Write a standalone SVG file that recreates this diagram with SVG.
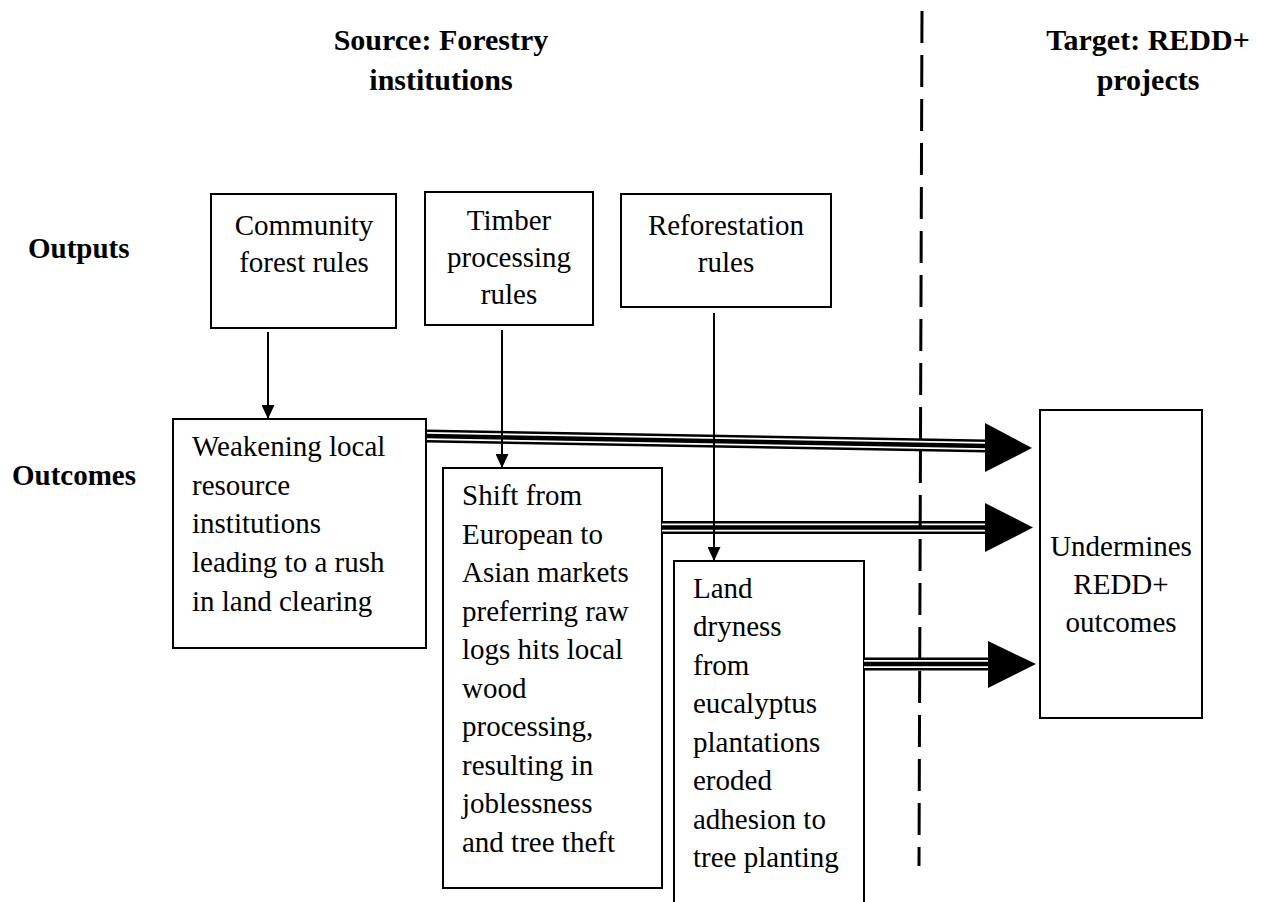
<svg xmlns="http://www.w3.org/2000/svg" width="1261" height="902" viewBox="0 0 1261 902">
  <style>
    .box { fill: #ffffff; stroke: #000000; stroke-width: 2; }
    .txt { font-family: "Liberation Serif", "Times New Roman", serif; font-size: 29px; fill: #000000; }
    .mid { text-anchor: middle; }
    .head { font-family: "Liberation Serif", "Times New Roman", serif; font-size: 29px; font-weight: bold; fill: #000000; }
    .title { font-size: 30px; }
    .thin { stroke: #000000; stroke-width: 2; fill: none; }
    .tri-outer { stroke: #000000; stroke-width: 13; fill: none; }
    .tri-gap { stroke: #ffffff; stroke-width: 8; fill: none; }
    .tri-core { stroke: #000000; stroke-width: 4.5; fill: none; }
    .divider { stroke: #000000; stroke-width: 3; stroke-dasharray: 32 12; fill: none; }
  </style>
  <defs>
    <marker id="tip" markerWidth="14" markerHeight="13" refX="14" refY="6.5" orient="auto" markerUnits="userSpaceOnUse" viewBox="0 0 14 13">
      <path d="M0,0 L14,6.5 L0,13 Z" fill="#000000"/>
    </marker>
  </defs>
  <rect width="1261" height="902" fill="#ffffff"/>

  <!-- column headings and row labels -->
  <g id="headings">
    <text class="head title mid" x="441" y="50">Source: Forestry</text>
    <text class="head title mid" x="441" y="90">institutions</text>
    <text class="head title mid" x="1148" y="50">Target: REDD+</text>
    <text class="head title mid" x="1148" y="90">projects</text>
    <text class="head" x="28" y="258">Outputs</text>
    <text class="head" x="12" y="485">Outcomes</text>
  </g>

  <!-- output nodes -->
  <g id="community-forest-rules">
    <rect class="box" x="211" y="194" width="185" height="134"/>
    <text class="txt mid" x="304" y="235">Community</text>
    <text class="txt mid" x="304" y="272">forest rules</text>
  </g>
  <g id="timber-processing-rules">
    <rect class="box" x="425" y="192" width="168" height="133"/>
    <text class="txt mid" x="509" y="230">Timber</text>
    <text class="txt mid" x="509" y="267">processing</text>
    <text class="txt mid" x="509" y="304">rules</text>
  </g>
  <g id="reforestation-rules">
    <rect class="box" x="621" y="194" width="210" height="113"/>
    <text class="txt mid" x="726" y="235">Reforestation</text>
    <text class="txt mid" x="726" y="272">rules</text>
  </g>

  <!-- outcome nodes -->
  <g id="weakening-institutions">
    <rect class="box" x="173" y="419" width="253" height="229"/>
    <text class="txt" x="192" y="456">Weakening local</text>
    <text class="txt" x="192" y="495">resource</text>
    <text class="txt" x="192" y="533">institutions</text>
    <text class="txt" x="192" y="572">leading to a rush</text>
    <text class="txt" x="192" y="611">in land clearing</text>
  </g>
  <g id="market-shift">
    <rect class="box" x="443" y="468" width="219" height="420"/>
    <text class="txt" x="462" y="505">Shift from</text>
    <text class="txt" x="462" y="544">European to</text>
    <text class="txt" x="462" y="582">Asian markets</text>
    <text class="txt" x="462" y="621">preferring raw</text>
    <text class="txt" x="462" y="659">logs hits local</text>
    <text class="txt" x="462" y="698">wood</text>
    <text class="txt" x="462" y="736">processing,</text>
    <text class="txt" x="462" y="775">resulting in</text>
    <text class="txt" x="462" y="813">joblessness</text>
    <text class="txt" x="462" y="852">and tree theft</text>
  </g>
  <g id="land-dryness">
    <rect class="box" x="674" y="561" width="190" height="350"/>
    <text class="txt" x="693" y="598">Land</text>
    <text class="txt" x="693" y="636">dryness</text>
    <text class="txt" x="693" y="675">from</text>
    <text class="txt" x="693" y="713">eucalyptus</text>
    <text class="txt" x="693" y="752">plantations</text>
    <text class="txt" x="693" y="790">eroded</text>
    <text class="txt" x="693" y="829">adhesion to</text>
    <text class="txt" x="693" y="867">tree planting</text>
  </g>

  <!-- target node -->
  <g id="undermines-redd">
    <rect class="box" x="1040" y="410" width="162" height="308"/>
    <text class="txt mid" x="1121" y="556">Undermines</text>
    <text class="txt mid" x="1121" y="594">REDD+</text>
    <text class="txt mid" x="1121" y="632">outcomes</text>
  </g>

  <!-- connectors -->
  <g id="connectors">
    <g id="weakening-to-target">
      <path class="tri-outer" d="M427,436 L987,446"/>
      <path class="tri-gap" d="M427,436 L987,446"/>
      <path class="tri-core" d="M427,436 L987,446"/>
      <polygon points="985,423 1032,448 985,472" fill="#000000"/>
    </g>
    <g id="shift-to-target">
      <path class="tri-outer" d="M662,527.5 L987,527.5"/>
      <path class="tri-gap" d="M662,527.5 L987,527.5"/>
      <path class="tri-core" d="M662,527.5 L987,527.5"/>
      <polygon points="985,503 1033,527.5 985,552" fill="#000000"/>
    </g>
    <g id="dryness-to-target">
      <path class="tri-outer" d="M864,664 L990,664"/>
      <path class="tri-gap" d="M864,664 L990,664"/>
      <path class="tri-core" d="M864,664 L990,664"/>
      <polygon points="988,641 1036,664 988,688" fill="#000000"/>
    </g>
    <line class="thin" x1="268" y1="332" x2="268" y2="419" marker-end="url(#tip)"/>
    <line class="thin" x1="502" y1="330" x2="502" y2="468" marker-end="url(#tip)"/>
    <line class="thin" x1="714" y1="313" x2="714" y2="561" marker-end="url(#tip)"/>
  </g>

  <!-- source / target divider -->
  <path class="divider" d="M922,11 L919,866"/>
</svg>
